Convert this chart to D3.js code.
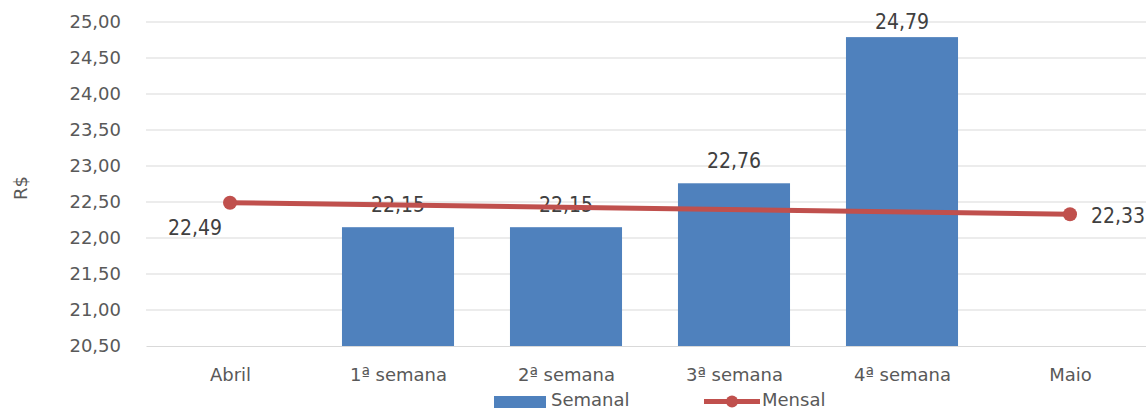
<!DOCTYPE html>
<html>
<head>
<meta charset="utf-8">
<script src="https://cdn.jsdelivr.net/npm/d3@7"></script>
<style>
  html, body { margin: 0; padding: 0; background: #ffffff; }
  svg { display: block; font-family: "DejaVu Sans", Verdana, sans-serif; }
  .vlabel { font-family: "DejaVu Sans Condensed", "DejaVu Sans", sans-serif; font-stretch: condensed; font-size: 21px; fill: #404040; }
</style>
</head>
<body>
<svg id="chart" width="1146" height="409"></svg>
<script>
// Categories along the x axis
const categories = ["Abril", "1ª semana", "2ª semana", "3ª semana", "4ª semana", "Maio"];
// Weekly price (bars); months have no weekly value
const semanal = [null, 22.15, 22.15, 22.76, 24.79, null];
// Monthly price (line); only the two month endpoints are defined
const mensal = [22.49, null, null, null, null, 22.33];
// Y axis ticks
const yTicks = [20.5, 21.0, 21.5, 22.0, 22.5, 23.0, 23.5, 24.0, 24.5, 25.0];

const fmt = v => d3.format(".2f")(v).replace(".", ",");

const svg = d3.select("#chart");
const plotL = 146, plotR = 1154, plotT = 22, plotB = 346;

const x = d3.scaleBand().domain(categories).range([plotL, plotR]).paddingInner(0.333).paddingOuter(0.1665);
const xc = d3.scalePoint().domain(categories).range([plotL, plotR]).padding(0.5);
const y = d3.scaleLinear().domain([20.5, 25]).range([plotB, plotT]);

// Horizontal grid
svg.append("g")
  .selectAll("line")
  .data(yTicks.slice(1))
  .join("line")
  .attr("x1", plotL).attr("x2", plotR)
  .attr("y1", d => y(d)).attr("y2", d => y(d))
  .attr("stroke", "#d9d9d9").attr("stroke-width", 1.2);

// Y axis labels
const yAxis = svg.append("g")
  .attr("transform", `translate(${plotL},0)`)
  .call(d3.axisLeft(y).tickValues(yTicks).tickFormat(fmt).tickSize(0).tickPadding(25))
  .attr("font-family", null).attr("font-size", null);
yAxis.select(".domain").remove();
yAxis.selectAll("text").attr("fill", "#595959").style("font-size", "18px");

// X axis
const xAxis = svg.append("g")
  .attr("transform", `translate(0,${plotB})`)
  .call(d3.axisBottom(xc).tickSize(0).tickPadding(22))
  .attr("font-family", null).attr("font-size", null);
xAxis.select(".domain").attr("stroke", "#d9d9d9").attr("stroke-width", 1.2);
xAxis.selectAll("text").attr("fill", "#595959").style("font-size", "18px");

// Axis title
svg.append("text")
  .attr("transform", `translate(27,${(plotT + plotB) / 2 + 4}) rotate(-90)`)
  .attr("text-anchor", "middle")
  .attr("fill", "#595959")
  .style("font-size", "18px")
  .text("R$");

// Bars
const barData = categories.map((c, i) => ({ c, v: semanal[i] })).filter(d => d.v != null);
svg.append("g")
  .selectAll("rect")
  .data(barData)
  .join("rect")
  .attr("x", d => x(d.c))
  .attr("width", x.bandwidth())
  .attr("y", d => y(d.v))
  .attr("height", d => plotB - y(d.v))
  .attr("fill", "#4f81bd");

// Bar value labels (kept inside the top edge)
svg.append("g")
  .selectAll("text")
  .data(barData)
  .join("text")
  .attr("class", "vlabel")
  .attr("x", d => x(d.c) + x.bandwidth() / 2)
  .attr("y", d => Math.max(y(d.v) - 15.5, 29))
  .attr("text-anchor", "middle")
  .text(d => fmt(d.v));

// Monthly line (gaps spanned)
const lineData = categories.map((c, i) => ({ c, v: mensal[i] })).filter(d => d.v != null);
svg.append("path")
  .datum(lineData)
  .attr("fill", "none")
  .attr("stroke", "#c0504d")
  .attr("stroke-width", 5)
  .attr("d", d3.line().x(d => xc(d.c)).y(d => y(d.v)));

svg.append("g")
  .selectAll("circle")
  .data(lineData)
  .join("circle")
  .attr("cx", d => xc(d.c))
  .attr("cy", d => y(d.v))
  .attr("r", 7)
  .attr("fill", "#c0504d");

// Monthly value labels
svg.append("text")
  .attr("class", "vlabel")
  .attr("x", xc("Abril") - 35).attr("y", y(mensal[0]) + 32.5)
  .attr("text-anchor", "middle")
  .text(fmt(mensal[0]));
svg.append("text")
  .attr("class", "vlabel")
  .attr("x", 1145).attr("y", y(mensal[5]) + 8.5)
  .attr("text-anchor", "end")
  .text(fmt(mensal[5]));

// Legend
const lg = svg.append("g").style("font-size", "18px").attr("fill", "#595959");
lg.append("rect").attr("x", 494).attr("y", 396).attr("width", 52).attr("height", 12).attr("fill", "#4f81bd");
lg.append("text").attr("x", 551).attr("y", 406).text("Semanal");
lg.append("line").attr("x1", 704).attr("x2", 760).attr("y1", 401.5).attr("y2", 401.5)
  .attr("stroke", "#c0504d").attr("stroke-width", 5);
lg.append("circle").attr("cx", 732).attr("cy", 401.5).attr("r", 6).attr("fill", "#c0504d");
lg.append("text").attr("x", 762).attr("y", 406).text("Mensal");
</script>
</body>
</html>
